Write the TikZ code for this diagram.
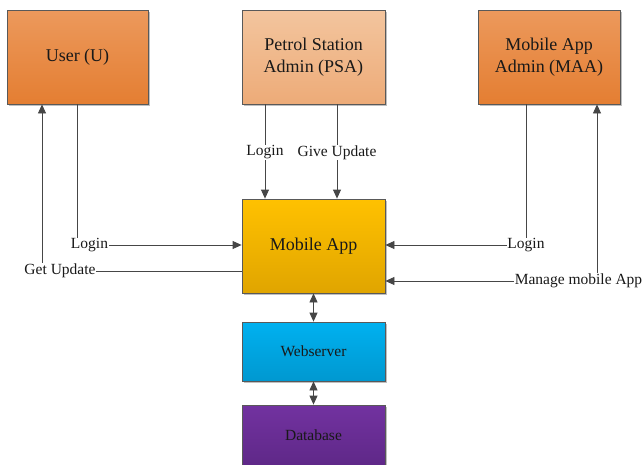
\documentclass[tikz,border=0pt]{standalone}
\usepackage{fontspec}
\setmainfont{Liberation Serif}
\usetikzlibrary{arrows.meta,shadows}
\definecolor{utop}{RGB}{236,153,92}
\definecolor{ubot}{RGB}{228,126,50}
\definecolor{ptop}{RGB}{243,197,158}
\definecolor{pbot}{RGB}{237,171,120}
\definecolor{atop}{RGB}{255,193,0}
\definecolor{abot}{RGB}{224,165,0}
\definecolor{wtop}{RGB}{0,177,240}
\definecolor{wbot}{RGB}{0,152,208}
\definecolor{dtop}{RGB}{114,50,160}
\definecolor{dbot}{RGB}{95,40,136}
\definecolor{linec}{RGB}{70,70,70}
\begin{document}
\begin{tikzpicture}[x=1pt,y=-1pt,
  tip/.style={-{Triangle[length=9pt,width=8pt]}},
  box/.style={draw=black!65, line width=0.8pt, minimum width=143pt, minimum height=94pt,
    inner sep=0pt, align=center, text=black!90, font=\fontsize{18}{22}\selectfont,
    drop shadow={shadow xshift=1.5pt,shadow yshift=-1.5pt,opacity=0.25,fill=black}},
  conn/.style={draw=linec, line width=0.8pt},
  lbl/.style={fill=white, inner sep=0.5pt, text=black!90, font=\fontsize{15.5}{18}\selectfont}]
\useasboundingbox (0,0) rectangle (643,464);
\node[box, top color=utop, bottom color=ubot, minimum width=141pt] (user) at (77.5,57) {User (U)};
\node[box, top color=ptop, bottom color=pbot] (psa) at (313.5,57) {Petrol Station\\Admin (PSA)};
\node[box, top color=utop, bottom color=ubot, minimum width=142pt] (maa) at (549,57) {Mobile App\\Admin (MAA)};
\node[box, top color=atop, bottom color=abot] (app) at (313.5,246) {Mobile App};
\node[box, top color=wtop, bottom color=wbot, minimum height=59pt, font=\fontsize{15.5}{18}\selectfont] (web) at (313.5,351.5) {Webserver};
\node[box, top color=dtop, bottom color=dbot, minimum height=60pt, font=\fontsize{15.5}{18}\selectfont] (db) at (313.5,435) {Database};
% PSA
\draw[conn,-{Triangle[length=9pt,width=8pt]}] ([xshift=-48.5pt]psa.south) -- ([xshift=-48.5pt]app.north) node[lbl,pos=0.51]{Login};
\draw[conn,-{Triangle[length=9pt,width=8pt]}] ([xshift=23.5pt]psa.south) -- ([xshift=23.5pt]app.north) node[lbl,pos=0.51]{Give Update};
% User
\draw[conn,-{Triangle[length=9pt,width=8pt]}] (user.south) |- ([yshift=1pt]app.west) node[lbl,pos=0.5,xshift=12pt]{Login};
\draw[conn,{Triangle[length=9pt,width=8pt]}-] ([xshift=-35.5pt]user.south) |- ([yshift=-25pt]app.west) node[lbl,pos=0.5,xshift=18pt]{Get Update};
% MAA
\draw[conn,-{Triangle[length=9pt,width=8pt]}] ([xshift=-23pt]maa.south) |- ([yshift=1pt]app.east) node[lbl,pos=0.5]{Login};
\draw[conn,{Triangle[length=9pt,width=8pt]}-{Triangle[length=9pt,width=8pt]}] ([xshift=48pt]maa.south) |- ([yshift=-35pt]app.east) node[lbl,pos=0.5,xshift=-18.5pt]{Manage mobile App};
% backend
\draw[conn,{Triangle[length=9pt,width=8pt]}-{Triangle[length=9pt,width=8pt]}] (app.south) -- (web.north);
\draw[conn,{Triangle[length=9pt,width=8pt]}-{Triangle[length=9pt,width=8pt]}] (web.south) -- (db.north);
\end{tikzpicture}
\end{document}
